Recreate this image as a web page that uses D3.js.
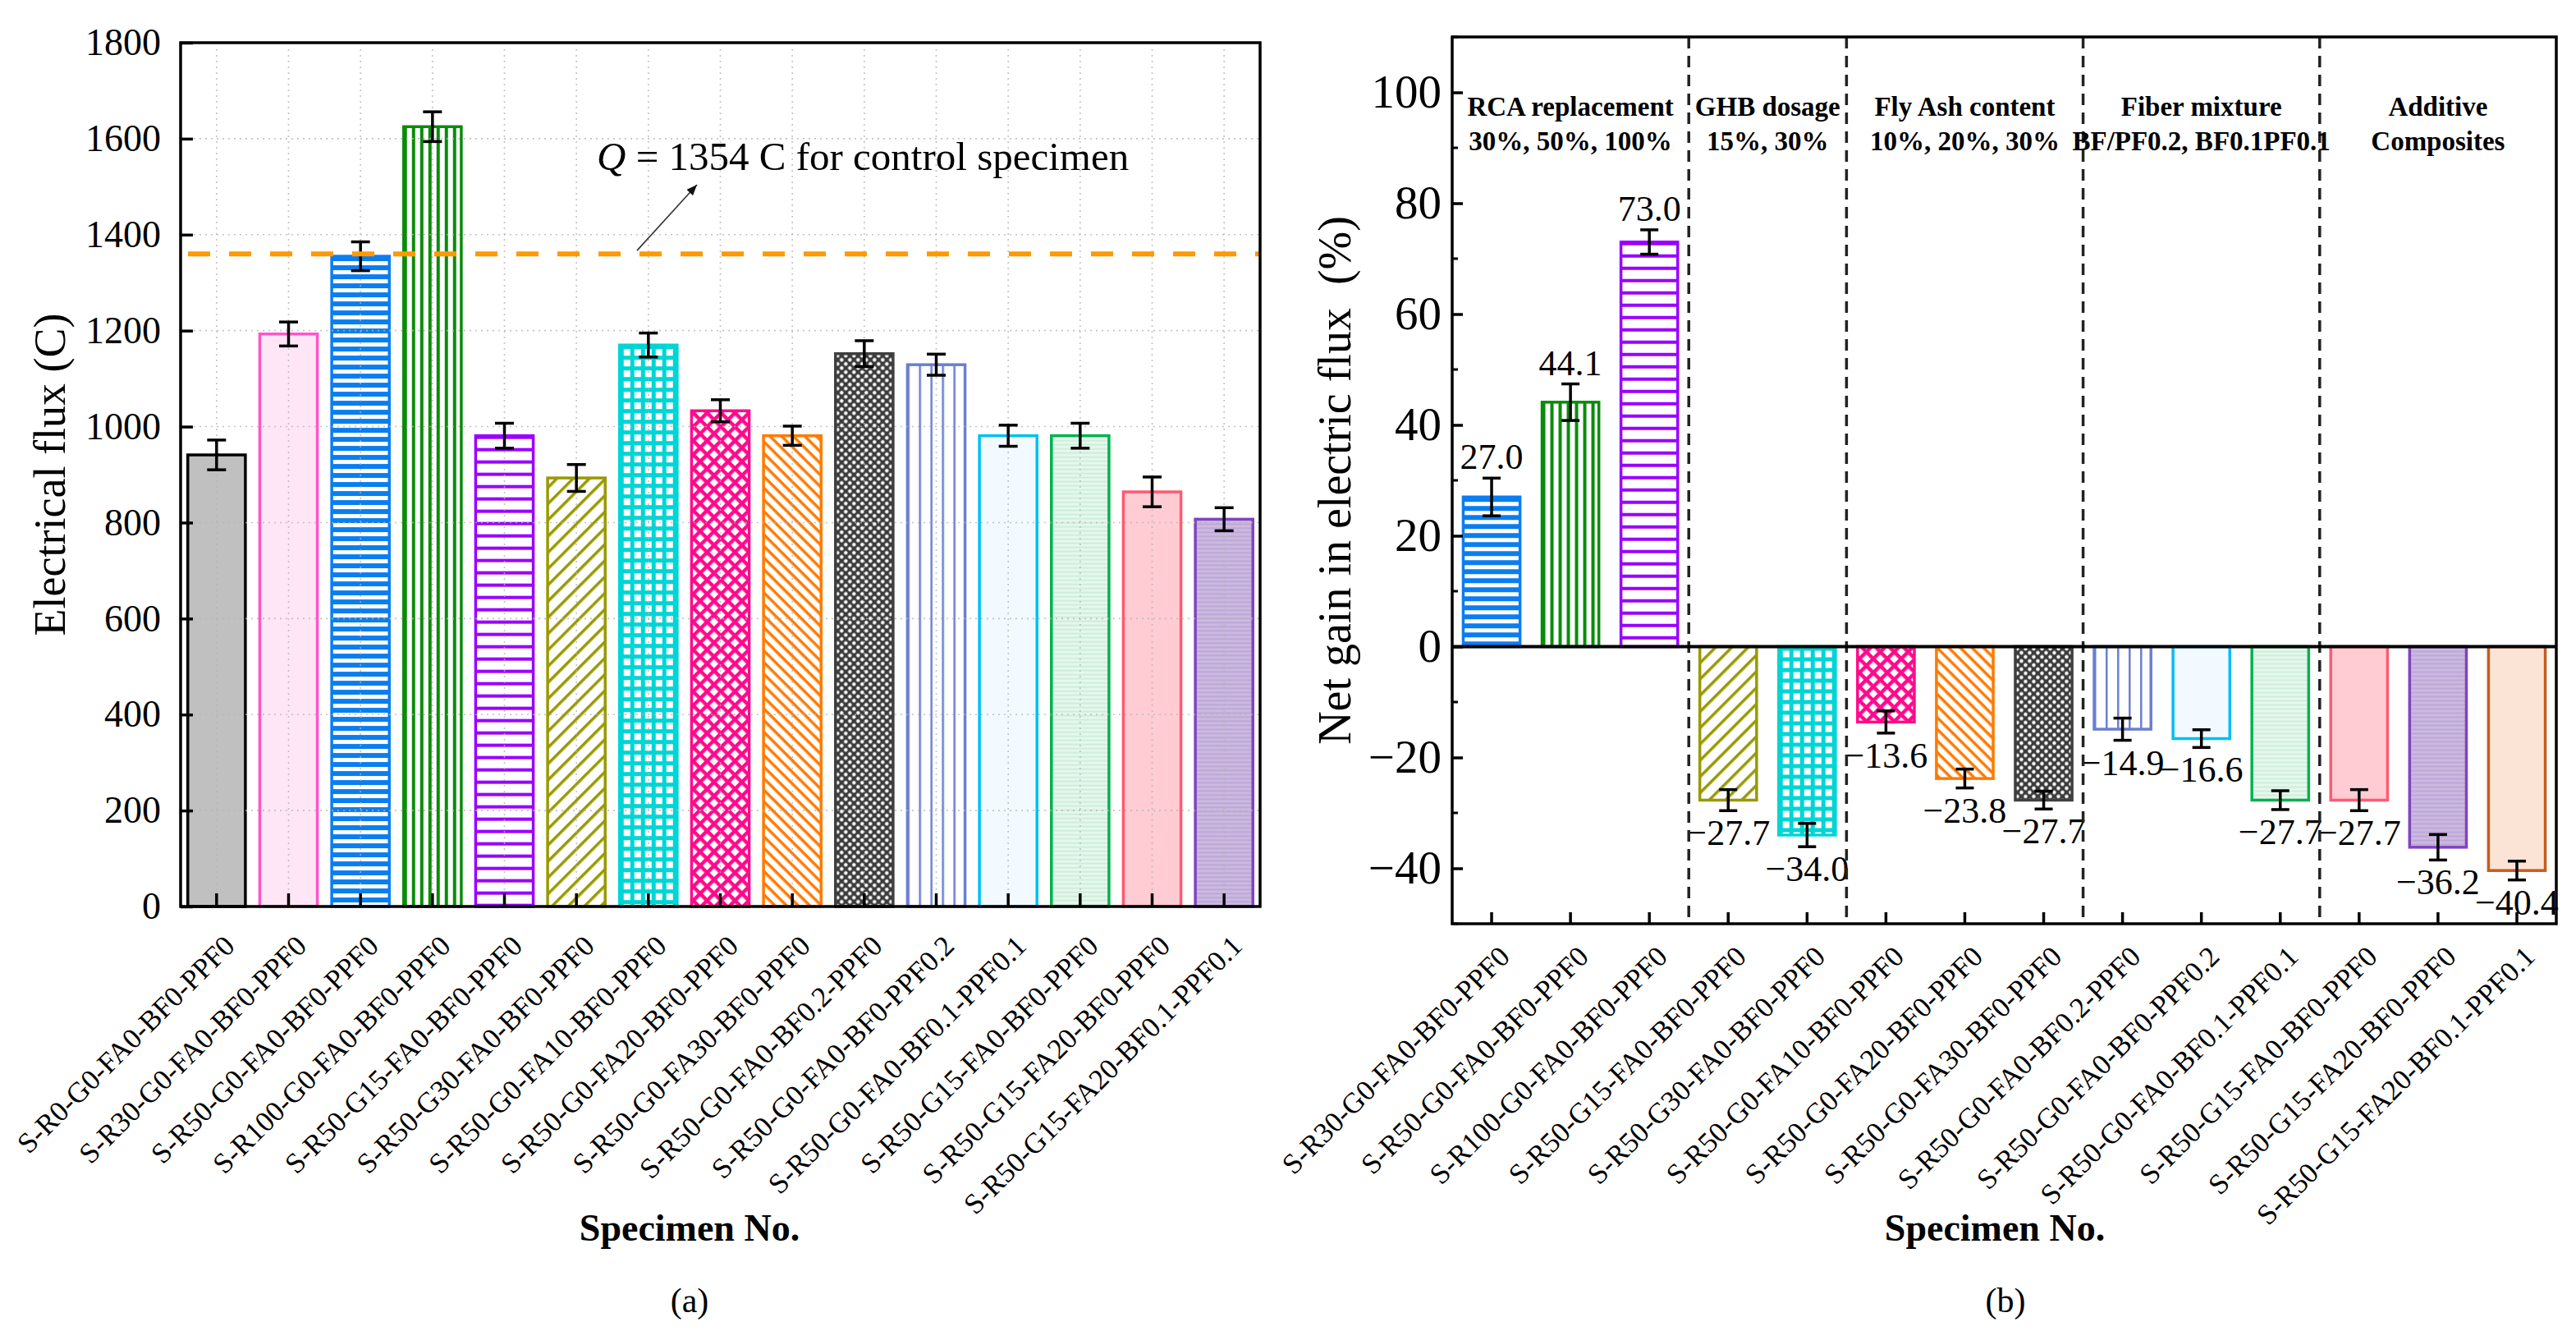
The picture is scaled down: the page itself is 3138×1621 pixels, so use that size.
<!DOCTYPE html>
<html>
<head>
<meta charset="utf-8">
<title>Electrical flux of specimens</title>
<script src="https://cdn.jsdelivr.net/npm/d3@7"></script>
<style>
  body { margin: 0; background: #fff; }
  svg text { font-family: "Liberation Serif", "Times New Roman", serif; fill: #000; }
</style>
</head>
<body>
<svg width="3138" height="1621"></svg>
<script>
// ---- data: panel (a) ----
const fluxSpecimens = [
  "S-R0-G0-FA0-BF0-PPF0", "S-R30-G0-FA0-BF0-PPF0", "S-R50-G0-FA0-BF0-PPF0",
  "S-R100-G0-FA0-BF0-PPF0", "S-R50-G15-FA0-BF0-PPF0", "S-R50-G30-FA0-BF0-PPF0",
  "S-R50-G0-FA10-BF0-PPF0", "S-R50-G0-FA20-BF0-PPF0", "S-R50-G0-FA30-BF0-PPF0",
  "S-R50-G0-FA0-BF0.2-PPF0", "S-R50-G0-FA0-BF0-PPF0.2", "S-R50-G0-FA0-BF0.1-PPF0.1",
  "S-R50-G15-FA0-BF0-PPF0", "S-R50-G15-FA20-BF0-PPF0", "S-R50-G15-FA20-BF0.1-PPF0.1"
];
const fluxMean = [941, 1193, 1355, 1625, 981, 893, 1170, 1033, 981, 1152, 1129, 981, 981, 864, 807];
const fluxErr = [31, 25, 30, 31, 26, 28, 25, 23, 20, 27, 22, 22, 26, 31, 24];
const fluxTicks = [0, 200, 400, 600, 800, 1000, 1200, 1400, 1600, 1800];
const controlLine = 1360;
const controlText = "1354";

// ---- data: panel (b) ----
const gainSpecimens = fluxSpecimens.slice(1);
const gainMean = [27.0, 44.1, 73.0, -27.7, -34.0, -13.6, -23.8, -27.7, -14.9, -16.6, -27.7, -27.7, -36.2, -40.4];
const gainErr = [3.4, 3.3, 2.2, 1.9, 2.1, 2.0, 1.7, 1.6, 2.0, 1.6, 1.7, 1.9, 2.3, 1.7];
const gainTicks = [-40, -20, 0, 20, 40, 60, 80, 100];
const gainMinorTicks = [-50, -30, -10, 10, 30, 50, 70, 90, 110];
const groupTitles = ["RCA replacement", "GHB dosage", "Fly Ash content", "Fiber mixture", "Additive"];
const groupSubtitles = ["30%, 50%, 100%", "15%, 30%", "10%, 20%, 30%", "BF/PF0.2, BF0.1PF0.1", "Composites"];
const groupSizes = [3, 2, 3, 3, 3];

// bar looks (outline colour + fill pattern)
const barStyles = [
  { stroke: "#000000", kind: "solid", bg: "#c0c0c0" },
  { stroke: "#ff55cc", kind: "solid", bg: "#ffe6f6" },
  { stroke: "#0a7ef0", kind: "h", color: "#0a7ef0", bg: "#fff", p: 11, w: 6 },
  { stroke: "#0a8c0a", kind: "v", color: "#0a8c0a", bg: "#fff", p: 10, w: 4 },
  { stroke: "#9900ff", kind: "h", color: "#9900ff", bg: "#fff", p: 15, w: 4 },
  { stroke: "#999900", kind: "h", angle: -45, color: "#999900", bg: "#fff", p: 14, w: 3.5 },
  { stroke: "#00d5d5", kind: "grid", color: "#00d5d5", bg: "#fff", p: 13, w: 5 },
  { stroke: "#ff0a8c", kind: "grid", angle: 45, color: "#ff0a8c", bg: "#fff", p: 12, w: 4.5 },
  { stroke: "#ff7a00", kind: "h", angle: 45, color: "#ff7a00", bg: "#fff", p: 10, w: 3.5 },
  { stroke: "#404040", kind: "dots", color: "#fff", bg: "#3c3c3c", p: 10, w: 2.2 },
  { stroke: "#6a7fd0", kind: "v", color: "#6a7fd0", bg: "#fff", p: 14, w: 2.5 },
  { stroke: "#00bff5", kind: "solid", bg: "#f2faff" },
  { stroke: "#00b34f", kind: "h", color: "#cdeedb", bg: "#e6f7ed", p: 5, w: 2 },
  { stroke: "#ff5a72", kind: "solid", bg: "#ffccd3" },
  { stroke: "#8043c0", kind: "h", color: "#bda7d8", bg: "#cbb9df", p: 5, w: 2 },
  { stroke: "#c85a1e", kind: "solid", bg: "#fbe4d6" }
];

const FONT = '"Liberation Serif", "Times New Roman", serif';
const svg = d3.select("svg").attr("font-family", FONT);
const defs = svg.append("defs");

svg.append("rect").attr("width", 3138).attr("height", 1621).attr("fill", "#fff");

defs.append("marker")
    .attr("id", "arrow").attr("viewBox", "0 0 10 10")
    .attr("refX", 10).attr("refY", 5)
    .attr("markerWidth", 13).attr("markerHeight", 13)
    .attr("markerUnits", "userSpaceOnUse")
    .attr("orient", "auto")
  .append("path").attr("d", "M0,1 L10,5 L0,9 Z").attr("fill", "#111");

function fillFor(id, s, x0, y0) {
  if (s.kind === "solid") return s.bg;
  const p = defs.append("pattern")
    .attr("id", id)
    .attr("patternUnits", "userSpaceOnUse")
    .attr("width", s.p).attr("height", s.p)
    .attr("x", x0).attr("y", y0);
  if (s.angle) p.attr("patternTransform", `rotate(${s.angle})`);
  p.append("rect").attr("width", s.p).attr("height", s.p).attr("fill", s.bg);
  if (s.kind === "h" || s.kind === "grid")
    p.append("rect").attr("width", s.p).attr("height", s.w).attr("fill", s.color);
  if (s.kind === "v" || s.kind === "grid")
    p.append("rect").attr("width", s.w).attr("height", s.p).attr("fill", s.color);
  if (s.kind === "dots") {
    p.append("circle").attr("cx", s.p / 4).attr("cy", s.p / 4).attr("r", s.w).attr("fill", s.color);
    p.append("circle").attr("cx", 3 * s.p / 4).attr("cy", 3 * s.p / 4).attr("r", s.w).attr("fill", s.color);
  }
  return `url(#${id})`;
}

// specimen names repeat, so the band scales run on indices
function errorBars(g, x, y, mean, err, cap) {
  const cx = i => x(i) + x.bandwidth() / 2;
  const eb = g.selectAll(".eb").data(mean).enter().append("g")
    .attr("stroke", "#000").attr("stroke-width", 3.5);
  eb.append("line")
    .attr("x1", (d, i) => cx(i)).attr("x2", (d, i) => cx(i))
    .attr("y1", (d, i) => y(d + err[i])).attr("y2", (d, i) => y(d - err[i]));
  [1, -1].forEach(sgn => {
    eb.append("line")
      .attr("x1", (d, i) => cx(i) - cap / 2).attr("x2", (d, i) => cx(i) + cap / 2)
      .attr("y1", (d, i) => y(d + sgn * err[i])).attr("y2", (d, i) => y(d + sgn * err[i]));
  });
}

function xLabels(g, x, y0, names, dx, dy) {
  g.selectAll(".xl").data(names).enter().append("text")
    .attr("text-anchor", "end")
    .attr("font-size", 35)
    .attr("transform", (d, i) => `translate(${x(i) + x.bandwidth() / 2 + dx},${y0 + dy}) rotate(-45)`)
    .text(d => d);
}

function xTicks(g, x, y0, n, len) {
  g.selectAll(".xt").data(d3.range(n)).enter().append("line")
    .attr("x1", i => x(i) + x.bandwidth() / 2).attr("x2", i => x(i) + x.bandwidth() / 2)
    .attr("y1", y0).attr("y2", y0 - len)
    .attr("stroke", "#000").attr("stroke-width", 3.5);
}

// ================= panel (a) =================
const a = svg.append("g");
const xL = d3.scaleBand().domain(d3.range(fluxSpecimens.length)).range([220, 1535])
  .paddingInner(0.2).paddingOuter(0.1);
const yL = d3.scaleLinear().domain([0, 1800]).range([1104, 52]);

a.selectAll(".bar").data(fluxMean).enter().append("rect")
  .attr("x", (d, i) => xL(i))
  .attr("y", d => yL(d))
  .attr("width", xL.bandwidth())
  .attr("height", d => yL(0) - yL(d))
  .attr("fill", (d, i) => fillFor(`pa${i}`, barStyles[i], xL(i), yL(d)))
  .attr("stroke", (d, i) => barStyles[i].stroke)
  .attr("stroke-width", 3.5);

// dotted grid
const gridA = a.append("g").attr("stroke", "#b4b4b4").attr("stroke-opacity", 0.8)
  .attr("stroke-width", 1.6).attr("stroke-dasharray", "2 5");
gridA.selectAll(".gh").data(fluxTicks.slice(1, -1)).enter().append("line")
  .attr("x1", 222).attr("x2", 1533).attr("y1", d => yL(d)).attr("y2", d => yL(d));
gridA.selectAll(".gv").data(d3.range(fluxSpecimens.length)).enter().append("line")
  .attr("x1", i => xL(i) + xL.bandwidth() / 2).attr("x2", i => xL(i) + xL.bandwidth() / 2)
  .attr("y1", yL(1800) + 8).attr("y2", yL(0));

errorBars(a, xL, yL, fluxMean, fluxErr, 23);

a.append("line")
  .attr("x1", 229).attr("x2", 1535)
  .attr("y1", yL(controlLine)).attr("y2", yL(controlLine))
  .attr("stroke", "#ff9900").attr("stroke-width", 6).attr("stroke-dasharray", "27 23");

const q = a.append("text").attr("x", 727).attr("y", 207).attr("font-size", 49);
q.append("tspan").attr("font-style", "italic").text("Q");
q.append("tspan").text(` = ${controlText} C for control specimen`);

a.append("line")
  .attr("x1", 776).attr("y1", yL(controlLine) - 4)
  .attr("x2", 849).attr("y2", 225)
  .attr("stroke", "#333").attr("stroke-width", 1.6)
  .attr("marker-end", "url(#arrow)");

a.append("rect").attr("x", 220).attr("y", 52).attr("width", 1315).attr("height", 1052)
  .attr("fill", "none").attr("stroke", "#000").attr("stroke-width", 3.5);

const axA = a.append("g").attr("transform", "translate(220,0)")
  .call(d3.axisLeft(yL).tickValues(fluxTicks).tickFormat(d3.format("d")).tickSize(-15).tickPadding(24));
axA.attr("font-family", FONT).attr("font-size", 46);
axA.select(".domain").remove();
axA.selectAll("line").attr("stroke-width", 3.5);

xTicks(a, xL, yL(0), fluxSpecimens.length, 16);
xLabels(a, xL, yL(0), fluxSpecimens, 24, 50);

a.append("text").attr("transform", "translate(79,578) rotate(-90)")
  .attr("text-anchor", "middle").attr("font-size", 54).text("Electrical flux (C)");
a.append("text").attr("x", 840).attr("y", 1511).attr("text-anchor", "middle")
  .attr("font-size", 46).attr("font-weight", "bold").text("Specimen No.");
a.append("text").attr("x", 840).attr("y", 1598).attr("text-anchor", "middle")
  .attr("font-size", 42).text("(a)");

// ================= panel (b) =================
const b = svg.append("g");
const xR = d3.scaleBand().domain(d3.range(gainSpecimens.length)).range([1769, 3114])
  .paddingInner(0.28).paddingOuter(0.14);
const yR = d3.scaleLinear().domain([-50, 110]).range([1125, 45]);
const rStyles = barStyles.slice(2);

b.selectAll(".bar").data(gainMean).enter().append("rect")
  .attr("x", (d, i) => xR(i))
  .attr("y", d => yR(Math.max(0, d)))
  .attr("width", xR.bandwidth())
  .attr("height", d => Math.abs(yR(d) - yR(0)))
  .attr("fill", (d, i) => fillFor(`pb${i}`, rStyles[i], xR(i), yR(Math.max(0, d))))
  .attr("stroke", (d, i) => rStyles[i].stroke)
  .attr("stroke-width", 3.5);

errorBars(b, xR, yR, gainMean, gainErr, 22);

const fmt = d3.format(".1f");
b.selectAll(".vl").data(gainMean).enter().append("text")
  .attr("text-anchor", "middle").attr("font-size", 44)
  .attr("x", (d, i) => xR(i) + xR.bandwidth() / 2)
  .attr("y", (d, i) => d >= 0 ? yR(d + gainErr[i]) - 11 : yR(d - gainErr[i]) + 42)
  .text(d => fmt(d));

// group separators
const groupEnds = Array.from(d3.cumsum(groupSizes));
const sepX = groupEnds.slice(0, -1).map(k => (xR(k - 1) + xR.bandwidth() + xR(k)) / 2);
b.selectAll(".sep").data(sepX).enter().append("line")
  .attr("x1", d => d).attr("x2", d => d).attr("y1", yR(110)).attr("y2", yR(-50))
  .attr("stroke", "#222").attr("stroke-width", 3.5).attr("stroke-dasharray", "14 9");

const groupCenter = groupSizes.map((n, gi) => {
  const first = groupEnds[gi] - n, last = groupEnds[gi] - 1;
  return (xR(first) + xR(last) + xR.bandwidth()) / 2;
});
b.selectAll(".gt").data(groupTitles).enter().append("text")
  .attr("x", (d, i) => groupCenter[i]).attr("y", 141)
  .attr("text-anchor", "middle").attr("font-size", 33).attr("font-weight", "bold").text(d => d);
b.selectAll(".gs").data(groupSubtitles).enter().append("text")
  .attr("x", (d, i) => groupCenter[i]).attr("y", 183)
  .attr("text-anchor", "middle").attr("font-size", 33).attr("font-weight", "bold").text(d => d);

b.append("line").attr("x1", 1769).attr("x2", 3114).attr("y1", yR(0)).attr("y2", yR(0))
  .attr("stroke", "#000").attr("stroke-width", 4);

b.append("rect").attr("x", 1769).attr("y", 45).attr("width", 1345).attr("height", 1080)
  .attr("fill", "none").attr("stroke", "#000").attr("stroke-width", 3.5);

const axB = b.append("g").attr("transform", "translate(1769,0)")
  .call(d3.axisLeft(yR).tickValues(gainTicks).tickSize(-13).tickPadding(13));
axB.attr("font-family", FONT).attr("font-size", 57);
axB.select(".domain").remove();
axB.selectAll("line").attr("stroke-width", 3.5);

b.selectAll(".mt").data(gainMinorTicks).enter().append("line")
  .attr("x1", 1769).attr("x2", 1776).attr("y1", d => yR(d)).attr("y2", d => yR(d))
  .attr("stroke", "#000").attr("stroke-width", 3);

xTicks(b, xR, yR(-50), gainSpecimens.length, 14);
xLabels(b, xR, yR(-50), gainSpecimens, 24, 42);

b.append("text").attr("transform", "translate(1645,585) rotate(-90)")
  .attr("text-anchor", "middle").attr("font-size", 56).style("white-space", "pre")
  .text("Net gain in electric flux  (%)");
b.append("text").attr("x", 2430).attr("y", 1511).attr("text-anchor", "middle")
  .attr("font-size", 46).attr("font-weight", "bold").text("Specimen No.");
b.append("text").attr("x", 2443).attr("y", 1598).attr("text-anchor", "middle")
  .attr("font-size", 42).text("(b)");
</script>
</body>
</html>
